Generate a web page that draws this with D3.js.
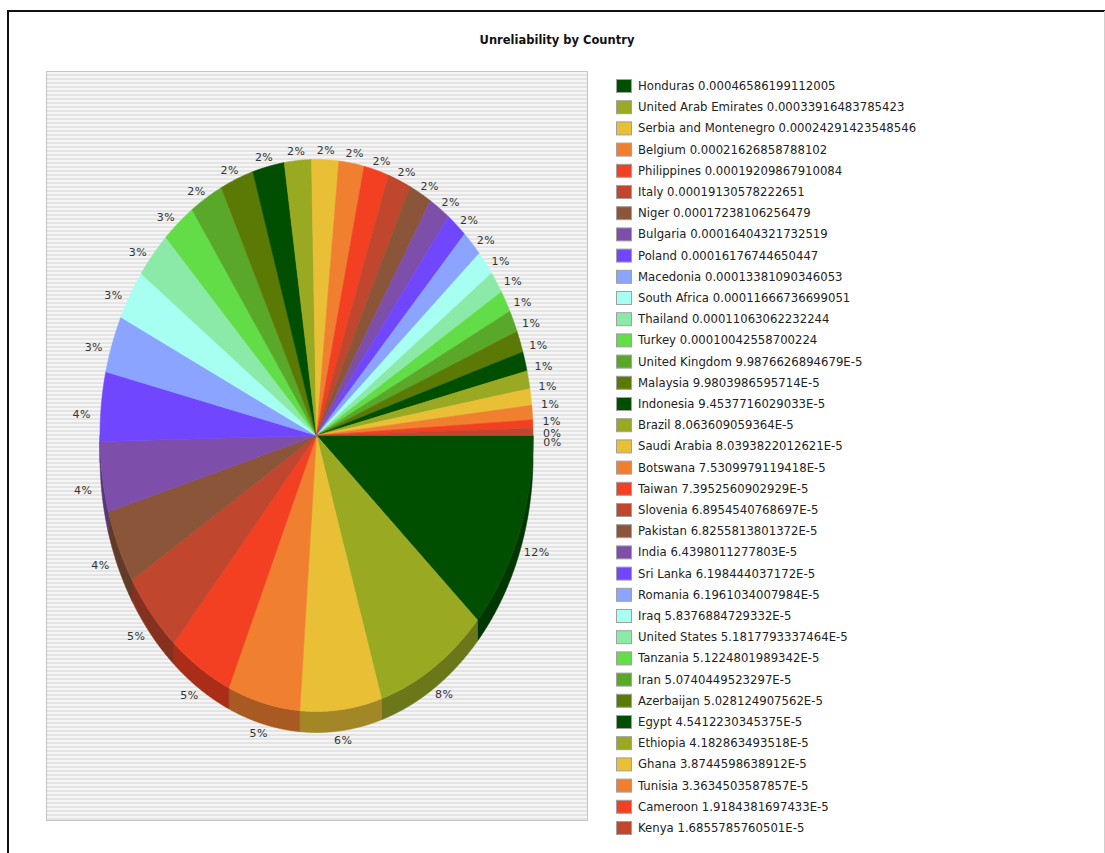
<!DOCTYPE html>
<html>
<head>
<meta charset="utf-8">
<script src="https://cdn.jsdelivr.net/npm/d3@7"></script>
<style>
html, body { margin: 0; padding: 0; background: #fff; }
svg { display: block; }
</style>
</head>
<body>
<svg id="chart" width="1105" height="853"></svg>
<script>
'use strict';
// Data (order = slice order, clockwise from 3 o'clock)
var countries = [
    'Honduras', 'United Arab Emirates', 'Serbia and Montenegro', 'Belgium', 'Philippines',
    'Italy', 'Niger', 'Bulgaria', 'Poland', 'Macedonia', 'South Africa', 'Thailand',
    'Turkey', 'United Kingdom', 'Malaysia', 'Indonesia', 'Brazil', 'Saudi Arabia',
    'Botswana', 'Taiwan', 'Slovenia', 'Pakistan', 'India', 'Sri Lanka', 'Romania',
    'Iraq', 'United States', 'Tanzania', 'Iran', 'Azerbaijan', 'Egypt', 'Ethiopia',
    'Ghana', 'Tunisia', 'Cameroon', 'Kenya'
];
var values = [
    0.00046586199112005, 0.00033916483785423, 0.00024291423548546, 0.00021626858788102,
    0.00019209867910084, 0.00019130578222651, 0.00017238106256479, 0.00016404321732519,
    0.00016176744650447, 0.00013381090346053, 0.00011666736699051, 0.00011063062232244,
    0.00010042558700224, 9.9876626894679E-5, 9.9803986595714E-5, 9.4537716029033E-5,
    8.063609059364E-5, 8.0393822012621E-5, 7.5309979119418E-5, 7.3952560902929E-5,
    6.8954540768697E-5, 6.8255813801372E-5, 6.4398011277803E-5, 6.198444037172E-5,
    6.1961034007984E-5, 5.8376884729332E-5, 5.1817793337464E-5, 5.1224801989342E-5,
    5.0740449523297E-5, 5.028124907562E-5, 4.5412230345375E-5, 4.182863493518E-5,
    3.8744598638912E-5, 3.3634503587857E-5, 1.9184381697433E-5, 1.6855785760501E-5
];
var palette = [
    '#004f00', '#99aa22', '#e9bf35', '#f08030', '#f34022', '#c0462e', '#8a5538',
    '#7d4fab', '#7046ff', '#8aa4ff', '#a6fff0', '#8ceaa8', '#62dd48', '#5aa82a', '#5b7a05'
];
var chartTitle = 'Unreliability by Country';

var svg = d3.select('#chart');
var total = d3.sum(values);

// Outer frame
svg.append('path')
    .attr('d', 'M8,853V11H1105')
    .style('fill', 'none').style('stroke', '#111').style('stroke-width', 2);
svg.append('line')
    .attr('x1', 1104.5).attr('x2', 1104.5).attr('y1', 11).attr('y2', 853)
    .style('stroke', '#cfcfcf');

// Title
svg.append('text')
    .attr('x', 557).attr('y', 40)
    .attr('text-anchor', 'middle').attr('dominant-baseline', 'central')
    .style('font-family', 'DejaVu Sans').style('font-weight', 'bold').style('font-size', '11.5px')
    .style('fill', '#111')
    .text(chartTitle);

// Striped plot background
var defs = svg.append('defs');
var pat = defs.append('pattern').attr('id', 'stripes')
    .attr('patternUnits', 'userSpaceOnUse').attr('width', 8).attr('height', 4);
pat.append('rect').attr('width', 8).attr('height', 4).style('fill', '#f5f5f5');
pat.append('rect').attr('y', 2).attr('width', 8).attr('height', 2).style('fill', '#e4e4e4');

svg.append('rect')
    .attr('x', 46.5).attr('y', 71.5).attr('width', 541).attr('height', 749)
    .style('fill', 'url(#stripes)').style('stroke', '#c4c4c4');

// Pie geometry (ellipse, 3D depth below)
var cx = 316.5, cy = 435.5, rx = 216.5, ry = 276, depth = 21;
var labelCy = 446, labelRx = 236, labelRy = 296;

var pie = d3.pie().sort(null)
    .startAngle(Math.PI / 2).endAngle(Math.PI / 2 + 2 * Math.PI);
var arcs = pie(values);

function colorOf(i) { return palette[i % palette.length]; }

function pt(a, dy) {
    return [cx + rx * Math.sin(a), cy - ry * Math.cos(a) + dy];
}
function arcPoints(a0, a1, dy) {
    var n = Math.max(2, Math.ceil((a1 - a0) / 0.005));
    return d3.range(n + 1).map(function(k) { return pt(a0 + (a1 - a0) * k / n, dy); });
}
var line = d3.line();

// Outer walls, only the front (lower) half is visible
var walls = svg.append('g').attr('class', 'walls');
arcs.forEach(function(d, i) {
    var lo = Math.max(d.startAngle, Math.PI / 2);
    var hi = Math.min(d.endAngle, 3 * Math.PI / 2);
    if (hi <= lo) return;
    var pts = arcPoints(lo, hi, 0).concat(arcPoints(lo, hi, depth).reverse());
    var c = d3.color(colorOf(i)).darker(1).toString();
    walls.append('path')
        .attr('d', line(pts) + 'Z')
        .style('fill', c).style('stroke', c).style('stroke-width', 0.6);
});

// Top faces
var faces = svg.append('g').attr('class', 'faces');
arcs.forEach(function(d, i) {
    var pts = [[cx, cy]].concat(arcPoints(d.startAngle, d.endAngle, 0));
    faces.append('path')
        .attr('d', line(pts) + 'Z')
        .style('fill', colorOf(i)).style('stroke', colorOf(i)).style('stroke-width', 0.6);
});

// Percentage labels
svg.append('g').attr('class', 'labels')
    .selectAll('text').data(arcs).enter().append('text')
    .attr('x', function(d) { return cx + labelRx * Math.sin((d.startAngle + d.endAngle) / 2); })
    .attr('y', function(d) { return labelCy - labelRy * Math.cos((d.startAngle + d.endAngle) / 2); })
    .attr('text-anchor', 'middle').attr('dominant-baseline', 'central')
    .style('font-family', 'DejaVu Sans').style('font-size', '11px').style('fill', '#333')
    .style('letter-spacing', '0.5px')
    .text(function(d) { return Math.round(d.value / total * 100) + '%'; });

// Legend
function fmt(v) {
    return v < 1e-4 ? v.toExponential().replace('e', 'E') : String(v);
}
var legendY = d3.scaleLinear().domain([0, countries.length - 1]).range([86, 828]);
var items = svg.append('g').attr('class', 'legend')
    .selectAll('g').data(countries).enter().append('g')
    .attr('transform', function(d, i) { return 'translate(0,' + legendY(i) + ')'; });
items.append('rect')
    .attr('x', 616.5).attr('y', -6.5).attr('width', 15).attr('height', 13)
    .style('fill', function(d, i) { return colorOf(i); })
    .style('stroke', '#a0a0a0');
items.append('text')
    .attr('x', 638).attr('y', 0).attr('dominant-baseline', 'central')
    .style('font-family', 'DejaVu Sans').style('font-size', '11.7px').style('fill', '#222')
    .text(function(d, i) { return d + ' ' + fmt(values[i]); });
</script>
</body>
</html>
